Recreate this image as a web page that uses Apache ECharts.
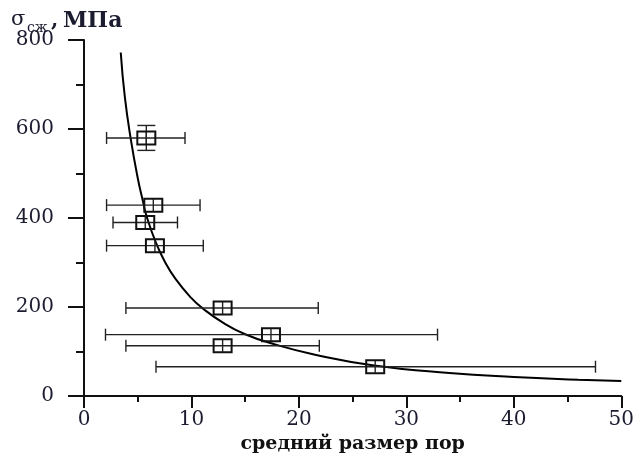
<!DOCTYPE html>
<html>
<head>
<meta charset="utf-8">
<title>sigma vs pore size</title>
<script src="https://cdn.jsdelivr.net/npm/echarts@6/dist/echarts.min.js"></script>
<style>
  html, body { margin: 0; padding: 0; background: #fff; }
  #chart { width: 637px; height: 459px; }
</style>
</head>
<body>
<div id="chart"></div>
<script>
  // measured points (mean pore size, strength) with their error ranges
  var poreSize = [5.8, 6.45, 5.7, 6.6, 12.9, 17.4, 12.9, 27.1];
  var sigma = [580, 429, 390, 338, 198, 138, 113, 66];
  var poreMin = [2.1, 2.1, 2.7, 2.1, 3.9, 2.0, 3.9, 6.7];
  var poreMax = [9.4, 10.8, 8.7, 11.1, 21.8, 32.9, 21.9, 47.6];
  var sigmaMin = [552, 429, 390, 338, 198, 138, 113, 66];
  var sigmaMax = [608, 429, 390, 338, 198, 138, 113, 66];

  // fitted curve
  var curveX = [3.42, 3.8, 4.35, 5.0, 5.5, 5.8, 6.7, 7.5, 8.5, 10, 11, 13, 15, 17.5, 21.5, 27, 34, 40, 46, 50];
  var curveY = [772, 672, 578, 490, 436, 406, 344, 303, 264, 220, 198, 164, 139, 118, 93, 69, 52, 43, 37, 34];

  var xTicks = [0, 10, 20, 30, 40, 50];
  var yTicks = [0, 200, 400, 600, 800];

  var font = '"DejaVu Serif", "Liberation Serif", serif';

  var points = poreSize.map(function (x, i) {
    return [x, sigma[i], poreMin[i], poreMax[i], sigmaMin[i], sigmaMax[i]];
  });
  var curve = curveX.map(function (x, i) { return [x, curveY[i]]; });

  var lineStyle = { stroke: '#222', lineWidth: 1.4 };

  function renderPoint(params, api) {
    var x = api.value(0), y = api.value(1);
    var c = api.coord([x, y]);
    var lo = api.coord([api.value(2), y]);
    var hi = api.coord([api.value(3), y]);
    var kids = [
      { type: 'line', shape: { x1: lo[0], y1: lo[1], x2: hi[0], y2: hi[1] }, style: lineStyle },
      { type: 'line', shape: { x1: lo[0], y1: lo[1] - 6, x2: lo[0], y2: lo[1] + 6 }, style: lineStyle },
      { type: 'line', shape: { x1: hi[0], y1: hi[1] - 6, x2: hi[0], y2: hi[1] + 6 }, style: lineStyle }
    ];
    if (api.value(4) !== api.value(5)) {
      var b = api.coord([x, api.value(4)]);
      var t = api.coord([x, api.value(5)]);
      kids.push({ type: 'line', shape: { x1: b[0], y1: b[1], x2: t[0], y2: t[1] }, style: lineStyle });
      kids.push({ type: 'line', shape: { x1: b[0] - 9, y1: b[1], x2: b[0] + 9, y2: b[1] }, style: lineStyle });
      kids.push({ type: 'line', shape: { x1: t[0] - 9, y1: t[1], x2: t[0] + 9, y2: t[1] }, style: lineStyle });
    }
    // box with a cross inside
    kids.push({ type: 'line', shape: { x1: c[0], y1: c[1] - 6, x2: c[0], y2: c[1] + 6 }, style: lineStyle });
    kids.push({
      type: 'rect', shape: { x: c[0] - 9, y: c[1] - 6.5, width: 18, height: 13 },
      style: { fill: 'none', stroke: '#111', lineWidth: 2 }
    });
    return { type: 'group', children: kids };
  }

  var chart = echarts.init(document.getElementById('chart'), null, { renderer: 'canvas' });
  chart.setOption({
    animation: false,
    backgroundColor: '#fff',
    grid: { left: 84, right: 15, top: 40, bottom: 61 },
    xAxis: {
      type: 'value', min: 0, max: 50, interval: 10,
      name: 'средний размер пор', nameLocation: 'middle', nameGap: 36,
      nameTextStyle: { fontFamily: font, fontWeight: 'bold', fontSize: 19, color: '#111' },
      axisLine: { onZero: false, lineStyle: { color: '#111', width: 2 } },
      axisTick: { length: 12, lineStyle: { color: '#111', width: 2 } },
      minorTick: { show: true, splitNumber: 2, length: 6, lineStyle: { color: '#111', width: 2 } },
      axisLabel: {
        margin: 14, fontFamily: font, fontSize: 20, color: '#1c1c30',
        formatter: function (v) { return xTicks.indexOf(v) >= 0 ? String(v) : ''; }
      },
      splitLine: { show: false }
    },
    yAxis: {
      type: 'value', min: 0, max: 800, interval: 200,
      axisLine: { show: true, onZero: false, lineStyle: { color: '#111', width: 2 } },
      axisTick: { show: true, length: 16, lineStyle: { color: '#111', width: 2 } },
      minorTick: { show: true, splitNumber: 2, length: 8, lineStyle: { color: '#111', width: 2 } },
      axisLabel: {
        margin: 30, fontFamily: font, fontSize: 20, color: '#1c1c30',
        formatter: function (v) { return yTicks.indexOf(v) >= 0 ? String(v) : ''; }
      },
      splitLine: { show: false }
    },
    graphic: [
      { type: 'text', x: 11, y: 20, style: { text: 'σ', font: '21px ' + font, fill: '#1c1c30', verticalAlign: 'middle' } },
      { type: 'text', x: 27, y: 28, style: { text: 'сж', font: '14px ' + font, fill: '#1c1c30', verticalAlign: 'middle' } },
      { type: 'text', x: 51, y: 21, style: { text: ',', font: 'bold 21px ' + font, fill: '#1c1c30', verticalAlign: 'middle' } },
      { type: 'text', x: 63, y: 21, style: { text: 'МПа', font: 'bold 22px ' + font, fill: '#1c1c30', verticalAlign: 'middle' } }
    ],
    series: [
      {
        type: 'line', data: curve, smooth: 0.5, showSymbol: false,
        lineStyle: { color: '#000', width: 2 }, z: 2
      },
      {
        type: 'custom', data: points, renderItem: renderPoint, z: 3,
        encode: { x: [0, 2, 3], y: [1, 4, 5] }
      }
    ]
  });
</script>
</body>
</html>
